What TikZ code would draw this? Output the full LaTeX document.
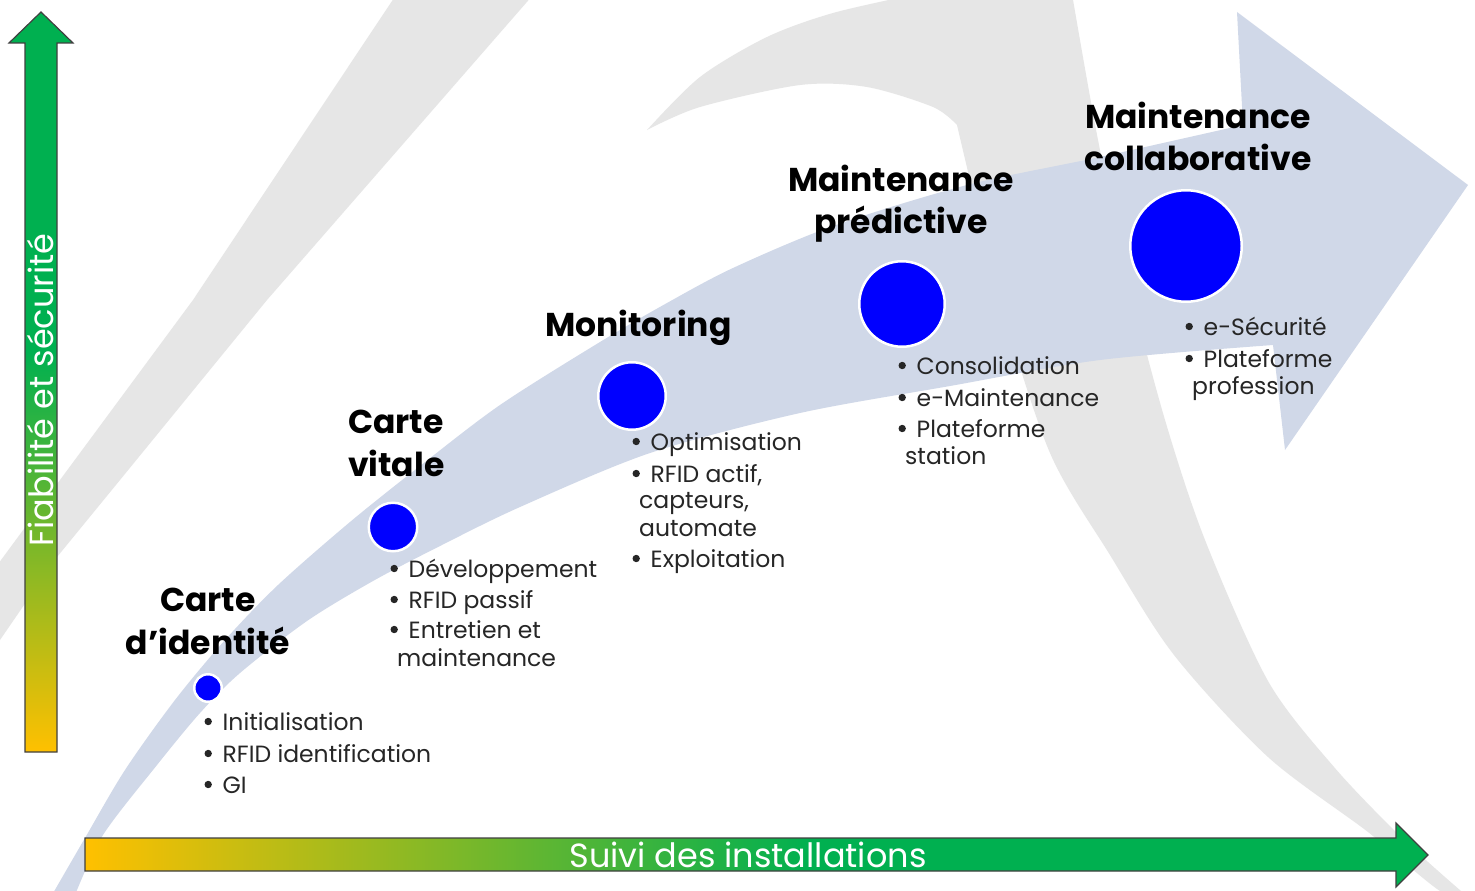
\documentclass[tikz,border=0pt]{standalone}
\usepackage{fontspec}
\setmainfont{Poppins}
\definecolor{axY}{HTML}{FFC000}
\definecolor{axG}{HTML}{00B050}
\definecolor{swgray}{HTML}{E6E6E6}
\definecolor{arrblue}{HTML}{D0D8E8}
\definecolor{dotblue}{HTML}{0000FF}
\definecolor{txtgray}{HTML}{262626}
\definecolor{axline}{HTML}{404040}
\pgfdeclareverticalshading{vaxshade}{100bp}{color(0bp)=(axY); color(25bp)=(axY); color(52bp)=(axG); color(100bp)=(axG)}
\pgfdeclarehorizontalshading{haxshade}{100bp}{color(0bp)=(axY); color(25bp)=(axY); color(52bp)=(axG); color(100bp)=(axG)}
\newcommand\bulletdot{\tikz[baseline=-8.5pt]\fill[txtgray] (0pt,0pt) circle (3.7pt);}
\newcommand\itm[1]{\makebox[12pt][c]{\bulletdot}\hspace{8.5pt}#1}
\newcommand\cnt[1]{\hspace{9pt}#1}
\tikzset{
  stagedot/.style={circle, fill=dotblue, draw=white, line width=2.5pt, inner sep=0pt},
  ttl/.style={font=\fontsize{33}{43}\selectfont\bfseries, text=black, inner sep=0pt},
  lst/.style={font=\fontsize{23.5}{27}\selectfont, text=txtgray, inner sep=0pt, anchor=base west},
  axlbl/.style={font=\fontsize{33.5}{36}\selectfont, text=white, inner sep=0pt},
  axarrow/.style={draw=axline, line width=1.2pt, line join=miter},
}
\begin{document}
\begin{tikzpicture}[x=1pt,y=-1pt]
\useasboundingbox (0,0) rectangle (1475,891);
\clip (0,0) rectangle (1475,891);
\fill[white] (0,0) rectangle (1475,891);

% gray background swoosh
\fill[swgray] (396,-5) -- (193,300) -- (60,480) -- (-10,575) -- (-10,645) -- (0,640) -- (57,557) -- (120,480) -- (267,300) -- (533,-5) -- cycle;
\fill[swgray] plot[smooth] coordinates {(647,130) (700,77) (767,37) (833,13) (917,-6)}
  -- (1072,-6)
  -- plot[smooth] coordinates {(1072,-6) (1098,140) (1128,280) (1165,420) (1205,540) (1268,681) (1334,767) (1401,837) (1461,891) (1480,905)}
  -- plot[smooth] coordinates {(1480,905) (1440,891) (1368,832) (1268,757) (1174,655) (1110,555) (1050,453) (1000,300) (957,125)}
  -- plot[smooth] coordinates {(957,125) (933,107) (867,87) (800,85) (700,107) (647,130)}
  -- cycle;

% blue curved arrow
\fill[arrblue] plot[smooth] coordinates {(52,895) (85,838) (125,770) (175,700) (225,640) (278,585) (350,522) (420,466) (500,405) (600,342) (667,303) (733,268) (833,226) (967,185) (1100,157) (1243,125)}
  -- (1237,12) -- (1468,185) -- (1285,450) -- (1273,345)
  -- plot[smooth] coordinates {(1273,345) (1100,360) (950,386) (800,413) (650,453) (520,507) (440,546) (373,581) (307,621) (240,673) (200,713) (157,765) (103,835) (75,895)}
  -- cycle;

% axes
\path[axarrow, shade, shading=vaxshade] (25,752) -- (25,43) -- (9,43) -- (41,12) -- (73,43) -- (57,43) -- (57,752) -- cycle;
\path[axarrow, shade, shading=haxshade] (85,838) -- (1396,838) -- (1396,823) -- (1428,855) -- (1396,887) -- (1396,871) -- (85,871) -- cycle;
\node[axlbl, rotate=90] (ylbl) at (41,390) {Fiabilité et sécurité};
\node[axlbl] (xlbl) at (748,855) {Suivi des installations};

% stage dots
\node[stagedot, minimum size=27.5pt] (c1) at (208,688) {};
\node[stagedot, minimum size=48.5pt] (c2) at (393,527) {};
\node[stagedot, minimum size=67.5pt] (c3) at (632,396) {};
\node[stagedot, minimum size=85.5pt] (c4) at (902,304) {};
\node[stagedot, minimum size=111.5pt] (c5) at (1186,246) {};

% titles
\node[ttl, anchor=base] (t1) at (208,611) {\begin{tabular}[t]{@{}c@{}}Carte\\d’identité\end{tabular}};
\node[ttl, anchor=base west] (t2) at (348,433) {\begin{tabular}[t]{@{}l@{}}Carte\\vitale\end{tabular}};
\node[ttl, anchor=base west] (t3) at (545,336) {Monitoring};
\node[ttl, anchor=base] (t4) at (901,191) {\begin{tabular}[t]{@{}c@{}}Maintenance\\[-1pt]prédictive\end{tabular}};
\node[ttl, anchor=base] (t5) at (1198,128) {\begin{tabular}[t]{@{}c@{}}Maintenance\\collaborative\end{tabular}};

% lists
\node[lst] (l1) at (202,730) {\begin{tabular}[t]{@{}l@{}}\itm{Initialisation}\\[5pt]\itm{RFID identification}\\[4pt]\itm{GI}\end{tabular}};
\node[lst] (l2) at (388,577) {\begin{tabular}[t]{@{}l@{}}\itm{Développement}\\[4pt]\itm{RFID passif}\\[3pt]\itm{Entretien et}\\[1pt]\cnt{maintenance}\end{tabular}};
\node[lst] (l3) at (630,450) {\begin{tabular}[t]{@{}l@{}}\itm{Optimisation}\\[5pt]\itm{RFID actif,}\\[-1pt]\cnt{capteurs,}\\[1pt]\cnt{automate}\\[4pt]\itm{Exploitation}\end{tabular}};
\node[lst] (l4) at (896,374) {\begin{tabular}[t]{@{}l@{}}\itm{Consolidation}\\[5pt]\itm{e-Maintenance}\\[4pt]\itm{Plateforme}\\\cnt{station}\end{tabular}};
\node[lst] (l5) at (1183,335) {\begin{tabular}[t]{@{}l@{}}\itm{e-Sécurité}\\[5pt]\itm{Plateforme}\\\cnt{profession}\end{tabular}};
\end{tikzpicture}
\end{document}
